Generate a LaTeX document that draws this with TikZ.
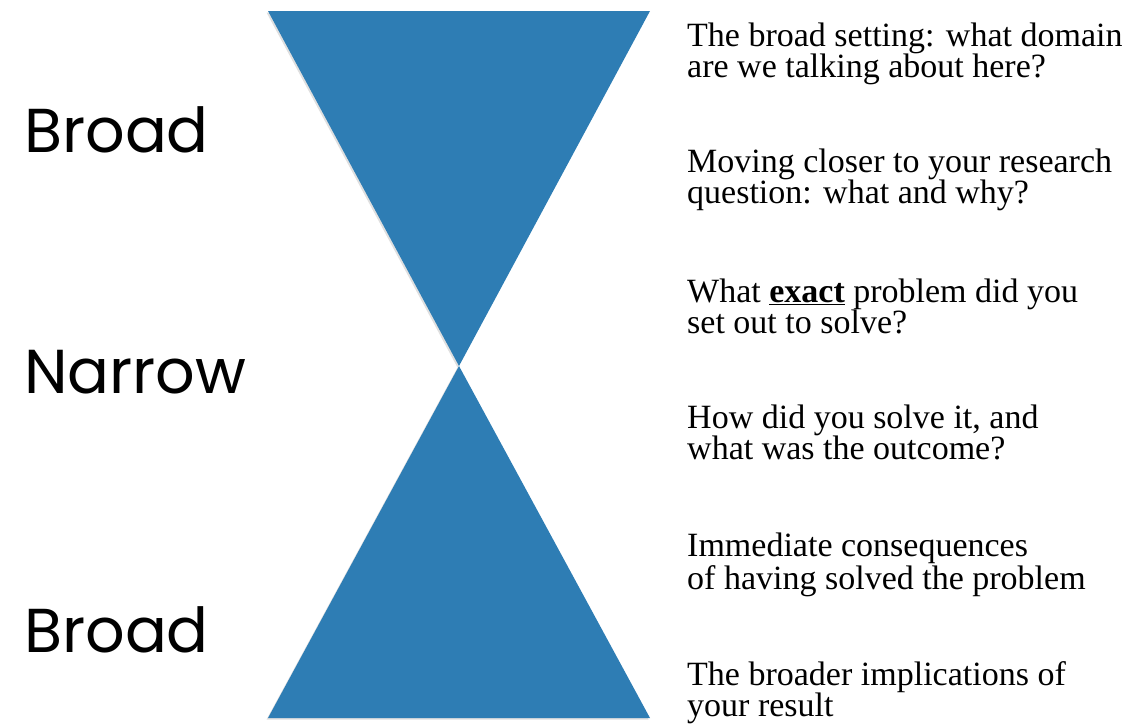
\documentclass[tikz,border=0pt]{standalone}
\usepackage{fontspec}
\setmainfont{Liberation Serif}
\newfontfamily\sidefont{Poppins}
\usetikzlibrary{shadows}
\definecolor{funnel}{RGB}{46,125,180}

\begin{document}
\begin{tikzpicture}[x=1pt,y=-1pt,
    side/.style={anchor=base west,inner sep=0pt,font=\sidefont\fontsize{62}{62}\selectfont},
    note/.style={anchor=base west,inner sep=0pt,align=left,font=\fontsize{34}{31}\selectfont},
    wedge/.style={fill=funnel,drop shadow={opacity=0.25,shadow xshift=-1.5pt,shadow yshift=-1.5pt}}]
  \useasboundingbox (0,0) rectangle (1139,724);

  % hourglass
  \coordinate (tl) at (268,11);
  \coordinate (tr) at (650,11);
  \coordinate (m) at (459,366);
  \coordinate (bl) at (268,718);
  \coordinate (br) at (650,718);
  \fill[wedge] (tl) -- (tr) -- (m) -- cycle;
  \fill[wedge] (bl) -- (br) -- (m) -- cycle;

  \node[side] (b1) at (24,152) {Broad};
  \node[side] (n) at (24,393) {Narrow};
  \node[side] (b2) at (24,652) {Broad};

  % base anchor sits on the last line
  \node[note] (1) at (687,77) {The broad setting: what domain\\are we talking about here?};
  \node[note] (2) at (687,203) {Moving closer to your research\\question: what and why?};
  \node[note] (3) at (687,333) {What \underline{\textbf{exact}} problem did you\\set out to solve?};
  \node[note] (4) at (687,459) {How did you solve it, and\\what was the outcome?};
  \node[note] (5) at (687,589) {Immediate consequences\\of having solved the problem};
  \node[note] (6) at (687,716) {The broader implications of\\your result};
\end{tikzpicture}
\end{document}
